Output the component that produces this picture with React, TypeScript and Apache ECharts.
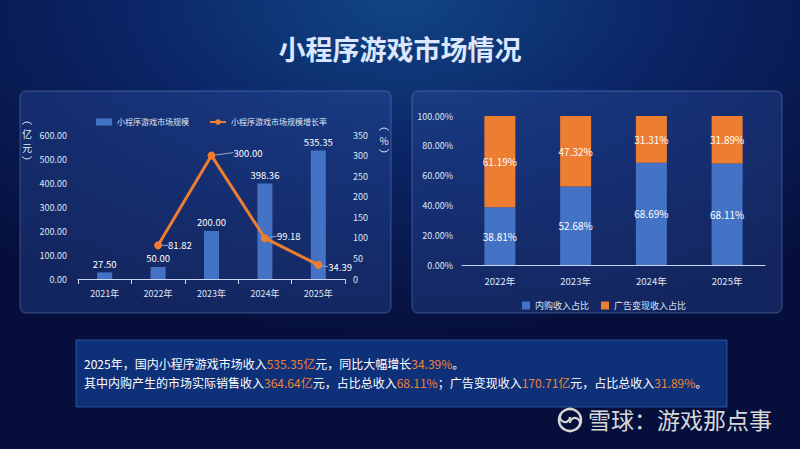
import React, { useEffect, useRef } from "react";
import * as echarts from "echarts";

const years1 = ["2021年", "2022年", "2023年", "2024年", "2025年"];
const marketSize = [27.5, 50.0, 200.0, 398.36, 535.35];
const growthRate: (number | null)[] = [null, 81.82, 300.0, 99.18, 34.39];

const years2 = ["2022年", "2023年", "2024年", "2025年"];
const inAppShare = [38.81, 52.68, 68.69, 68.11];
const adShare = [61.19, 47.32, 31.31, 31.89];

const FONT = "'Noto Sans CJK SC', 'Noto Sans', sans-serif";
const BLUE = "#4472c4";
const ORANGE = "#ed7d31";
const HL = "#f0832f";
const LABEL = "#dfe6f6";

const lineLabelDx = [0, 2, 14, 4, 2];
const lineLabelDy = [0, 0, -3, -2, 2];

function paren(x: number, y: number, open: boolean) {
  // vertical-writing bracket drawn as a shallow arc
  return open
    ? {
        type: "arc",
        shape: { cx: x, cy: y + 5, r: 6, startAngle: Math.PI * 1.2, endAngle: Math.PI * 1.8, clockwise: true },
        style: { fill: "none", stroke: LABEL, lineWidth: 1 },
      }
    : {
        type: "arc",
        shape: { cx: x, cy: y - 5, r: 6, startAngle: Math.PI * 0.2, endAngle: Math.PI * 0.8, clockwise: true },
        style: { fill: "none", stroke: LABEL, lineWidth: 1 },
      };
}
function vchar(x: number, y: number, t: string) {
  return {
    type: "text",
    x,
    y,
    style: {
      text: t,
      font: `10px ${FONT}`,
      lineHeight: 11,
      fill: LABEL,
      align: "center",
      verticalAlign: "middle",
    },
  };
}

export default function App() {
  const ref = useRef<HTMLDivElement>(null);
  useEffect(() => {
    document.body.style.margin = "0";
    const chart = echarts.init(ref.current!, null, { renderer: "svg" });
    const option: any = {
      animation: false,
      textStyle: { fontFamily: FONT },
      graphic: [
        {
          type: "rect",
          z: -10,
          silent: true,
          shape: { x: 0, y: 0, width: 800, height: 449 },
          style: {
            fill: new echarts.graphic.RadialGradient(0.5, 0.0, 0.75, [
              { offset: 0, color: "#114584" },
              { offset: 0.45, color: "#0b2566" },
              { offset: 1, color: "#060f3c" },
            ]),
          },
        },
        {
          type: "rect",
          z: -9,
          silent: true,
          shape: { x: 20, y: 91, width: 371, height: 222, r: 6 },
          style: { fill: "rgba(45,80,160,0.35)", stroke: "rgba(150,180,240,0.35)", lineWidth: 1 },
        },
        {
          type: "rect",
          z: -9,
          silent: true,
          shape: { x: 412, y: 91, width: 370, height: 222, r: 6 },
          style: { fill: "rgba(45,80,160,0.35)", stroke: "rgba(150,180,240,0.35)", lineWidth: 1 },
        },
        {
          type: "text",
          left: "center",
          top: 35,
          style: {
            text: "小程序游戏市场情况",
            font: `bold 27px ${FONT}`,
            fill: "#dbe7ff",
            shadowColor: "rgba(120,170,255,0.6)",
            shadowBlur: 6,
          },
        },
        paren(27, 123, true),
        vchar(27, 133, "亿"),
        vchar(27, 147, "元"),
        paren(27, 158, false),
        paren(384, 129, true),
        vchar(384, 140, "%"),
        paren(384, 151, false),
        {
          type: "rect",
          z: -8,
          silent: true,
          shape: { x: 76, y: 340, width: 651, height: 67 },
          style: { fill: "#0d3079", stroke: "rgba(70,120,210,0.55)", lineWidth: 1 },
        },
        {
          type: "text",
          x: 84,
          y: 357,
          style: {
            text: "2025年，国内小程序游戏市场收入{h|535.35亿}元，同比大幅增长{h|34.39%}。",
            font: `12px ${FONT}`,
            fill: "#ffffff",
            rich: { h: { fill: HL, font: `12px ${FONT}` } },
          },
        },
        {
          type: "text",
          x: 84,
          y: 376,
          style: {
            text:
              "其中内购产生的市场实际销售收入{h|364.64亿}元，占比总收入{h|68.11%}；广告变现收入{h|170.71亿}元，占比总收入{h|31.89%}。",
            font: `12px ${FONT}`,
            fill: "#ffffff",
            rich: { h: { fill: HL, font: `12px ${FONT}` } },
          },
        },
        {
          type: "circle",
          shape: { cx: 570, cy: 420, r: 11 },
          style: { fill: "none", stroke: "#d6d6d6", lineWidth: 2.5 },
        },
        {
          type: "arc",
          shape: { cx: 565, cy: 417, r: 5, startAngle: 0, endAngle: Math.PI * 1.2 },
          style: { fill: "none", stroke: "#d6d6d6", lineWidth: 2.2 },
        },
        {
          type: "arc",
          shape: { cx: 575, cy: 423, r: 5, startAngle: Math.PI, endAngle: Math.PI * 2.2 },
          style: { fill: "none", stroke: "#d6d6d6", lineWidth: 2.2 },
        },
        {
          type: "text",
          x: 588,
          y: 407,
          style: {
            text: "雪球：游戏那点事",
            font: `23px ${FONT}`,
            fill: "#d8d8d8",
          },
        },
      ],
      legend: [
        {
          left: 91,
          top: 113,
          itemWidth: 16,
          itemHeight: 7,
          itemGap: 20,
          textStyle: { color: LABEL, fontSize: 8 },
          data: [
            { name: "小程序游戏市场规模", icon: "rect" },
            { name: "小程序游戏市场规模增长率" },
          ],
        },
        {
          left: 517,
          top: 296,
          itemWidth: 8,
          itemHeight: 8,
          itemGap: 12,
          icon: "rect",
          textStyle: { color: LABEL, fontSize: 9 },
          data: ["内购收入占比", "广告变现收入占比"],
        },
      ],
      grid: [
        { left: 78, top: 135, width: 267, height: 144 },
        { left: 462, top: 116, width: 303, height: 149 },
      ],
      xAxis: [
        {
          type: "category",
          gridIndex: 0,
          data: years1,
          axisLine: { lineStyle: { color: "#c9d5f2" } },
          axisTick: { show: true, lineStyle: { color: "#c9d5f2" } },
          axisLabel: { color: LABEL, fontSize: 9, margin: 10 },
        },
        {
          type: "category",
          gridIndex: 1,
          data: years2,
          axisLine: { lineStyle: { color: "#c9d5f2" } },
          axisTick: { show: false },
          axisLabel: { color: LABEL, fontSize: 9.5, margin: 11 },
        },
      ],
      yAxis: [
        {
          type: "value",
          gridIndex: 0,
          min: 0,
          max: 600,
          interval: 100,
          splitLine: { show: false },
          axisLine: { show: false },
          axisTick: { show: false },
          axisLabel: { color: LABEL, fontSize: 9, margin: 11, formatter: (v: number) => v.toFixed(2) },
        },
        {
          type: "value",
          gridIndex: 0,
          position: "right",
          min: 0,
          max: 350,
          interval: 50,
          splitLine: { show: false },
          axisLine: { show: false },
          axisTick: { show: false },
          axisLabel: { color: LABEL, fontSize: 9, margin: 8 },
        },
        {
          type: "value",
          gridIndex: 1,
          min: 0,
          max: 100,
          interval: 20,
          splitLine: { show: false },
          axisLine: { show: false },
          axisTick: { show: false },
          axisLabel: { color: LABEL, fontSize: 9, margin: 9, formatter: (v: number) => v.toFixed(2) + "%" },
        },
      ],
      series: [
        {
          name: "小程序游戏市场规模",
          type: "bar",
          xAxisIndex: 0,
          yAxisIndex: 0,
          barWidth: 15,
          itemStyle: { color: BLUE },
          data: marketSize,
          label: {
            show: true,
            position: "top",
            distance: 4,
            color: "#ffffff",
            fontSize: 9.5,
            formatter: (p: any) => Number(p.value).toFixed(2),
          },
        },
        {
          name: "小程序游戏市场规模增长率",
          type: "line",
          xAxisIndex: 0,
          yAxisIndex: 1,
          data: growthRate,
          symbol: "circle",
          symbolSize: 8,
          lineStyle: { color: ORANGE, width: 3 },
          itemStyle: { color: ORANGE },
          label: {
            show: true,
            position: "right",
            distance: 4,
            color: "#ffffff",
            fontSize: 9.5,
            formatter: (p: any) => Number(p.value).toFixed(2),
          },
          labelLayout: (p: any) => ({ dx: lineLabelDx[p.dataIndex] || 0, dy: lineLabelDy[p.dataIndex] || 0 }),
          labelLine: { show: true, lineStyle: { color: "#9aa6c0", width: 1 } },
        },
        {
          name: "内购收入占比",
          type: "bar",
          xAxisIndex: 1,
          yAxisIndex: 2,
          stack: "share",
          barWidth: 31,
          itemStyle: { color: BLUE },
          data: inAppShare,
          label: {
            show: true,
            position: "inside",
            color: "#ffffff",
            fontSize: 10,
            formatter: (p: any) => Number(p.value).toFixed(2) + "%",
          },
        },
        {
          name: "广告变现收入占比",
          type: "bar",
          xAxisIndex: 1,
          yAxisIndex: 2,
          stack: "share",
          barWidth: 31,
          itemStyle: { color: ORANGE },
          data: adShare,
          label: {
            show: true,
            position: "inside",
            color: "#ffffff",
            fontSize: 10,
            formatter: (p: any) => Number(p.value).toFixed(2) + "%",
          },
        },
      ],
    };
    chart.setOption(option);
    return () => chart.dispose();
  }, []);
  return (
    <div
      ref={ref}
      style={{ position: "absolute", left: 0, top: 0, width: 800, height: 449 }}
    />
  );
}
